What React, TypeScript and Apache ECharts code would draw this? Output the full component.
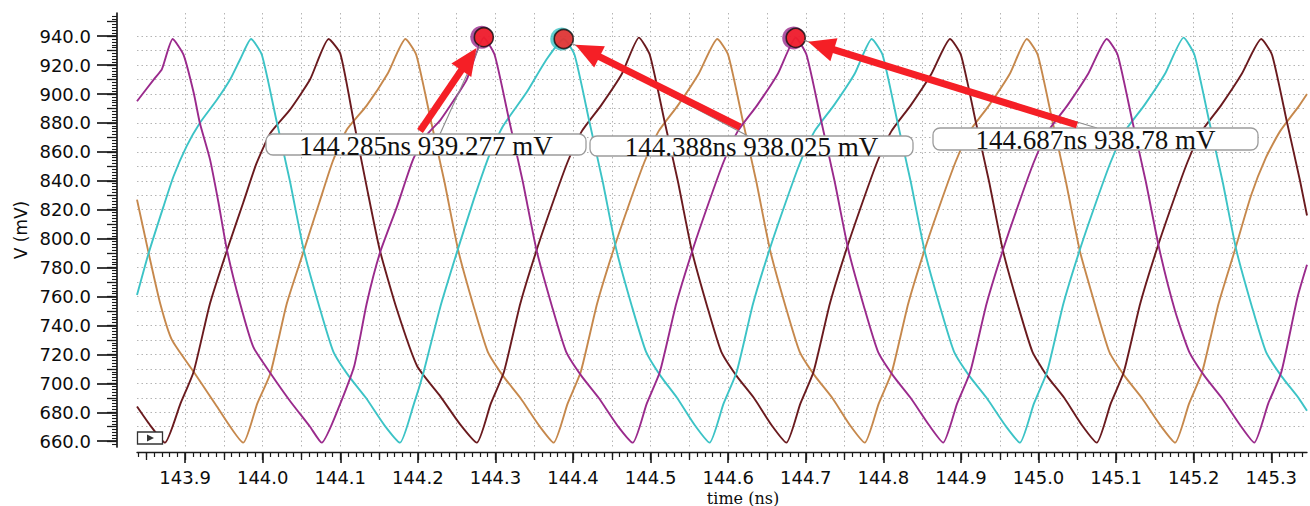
import React, { useEffect, useRef } from "react";
import * as echarts from "echarts";

// ---- data (time in ns, voltage in mV) ----
const purpleWave: [number, number][] = [
  [143.838, 895], [143.861, 911], [143.870, 917], [143.884, 938],
  [143.898, 927], [143.911, 901], [143.919, 880], [143.932, 855], [143.943, 825], [143.954, 792], [143.971, 755], [143.988, 725], [144.010, 707], [144.035, 688], [144.061, 670], [144.076, 659],
  [144.100, 686], [144.118, 712], [144.134, 755], [144.151, 790], [144.173, 822], [144.194, 855], [144.212, 872], [144.229, 882], [144.248, 897], [144.263, 910], [144.285, 939],
  [144.299, 927], [144.318, 881], [144.335, 840], [144.353, 792], [144.373, 753], [144.391, 722], [144.411, 705], [144.433, 690], [144.457, 671], [144.477, 659],
  [144.495, 686], [144.512, 708], [144.533, 755], [144.554, 792], [144.575, 825], [144.594, 853], [144.612, 874], [144.637, 892], [144.664, 914], [144.687, 939],
  [144.701, 927], [144.720, 881], [144.737, 840], [144.755, 792], [144.775, 753], [144.793, 722], [144.813, 705], [144.835, 690], [144.859, 671], [144.877, 659],
  [144.895, 686], [144.912, 708], [144.933, 755], [144.954, 792], [144.975, 825], [144.994, 853], [145.012, 874], [145.037, 892], [145.064, 914], [145.088, 938],
  [145.102, 927], [145.121, 881], [145.138, 840], [145.156, 792], [145.176, 750], [145.194, 722], [145.214, 705], [145.236, 690], [145.260, 671], [145.278, 659],
  [145.296, 686], [145.313, 708], [145.334, 760], [145.346, 782],
];

const cyanWave: [number, number][] = [
  [143.838, 761], [143.853, 790], [143.872, 822], [143.885, 843], [143.902, 864], [143.919, 880], [143.941, 896], [143.958, 910], [143.971, 924], [143.985, 938],
  [143.999, 927], [144.018, 881], [144.035, 840], [144.053, 792], [144.073, 753], [144.091, 722], [144.111, 705], [144.133, 690], [144.157, 671], [144.177, 659],
  [144.195, 686], [144.207, 707], [144.229, 753], [144.250, 790], [144.272, 827], [144.293, 859], [144.310, 878], [144.340, 901], [144.366, 924], [144.388, 938],
  [144.402, 927], [144.421, 881], [144.438, 840], [144.456, 792], [144.476, 753], [144.494, 722], [144.513, 705], [144.534, 690], [144.557, 671], [144.576, 659],
  [144.594, 686], [144.611, 708], [144.632, 755], [144.653, 792], [144.674, 825], [144.693, 853], [144.711, 874], [144.736, 892], [144.763, 914], [144.785, 938],
  [144.799, 927], [144.818, 881], [144.835, 840], [144.853, 792], [144.873, 753], [144.891, 722], [144.911, 705], [144.933, 690], [144.957, 671], [144.976, 659],
  [144.994, 686], [145.011, 708], [145.032, 755], [145.053, 792], [145.074, 825], [145.093, 853], [145.111, 874], [145.136, 892], [145.163, 914], [145.187, 939],
  [145.201, 927], [145.220, 881], [145.237, 840], [145.255, 792], [145.275, 753], [145.293, 722], [145.313, 705], [145.335, 690], [145.346, 681],
];

const brownWave: [number, number][] = [
  [143.838, 684], [143.855, 671], [143.874, 659],
  [143.894, 686], [143.911, 708], [143.932, 755], [143.954, 792], [143.975, 825], [143.992, 852], [144.010, 873], [144.035, 889], [144.061, 910], [144.085, 938],
  [144.100, 928], [144.117, 882], [144.134, 836], [144.151, 792], [144.173, 751], [144.199, 712], [144.229, 691], [144.254, 672], [144.276, 659],
  [144.294, 686], [144.311, 708], [144.332, 755], [144.353, 792], [144.374, 825], [144.393, 853], [144.411, 874], [144.436, 892], [144.463, 914], [144.485, 939],
  [144.499, 927], [144.518, 881], [144.535, 840], [144.553, 792], [144.573, 753], [144.591, 722], [144.611, 705], [144.633, 690], [144.656, 671], [144.675, 659],
  [144.693, 686], [144.710, 708], [144.731, 755], [144.752, 792], [144.773, 825], [144.792, 853], [144.810, 874], [144.835, 892], [144.862, 914], [144.886, 938],
  [144.900, 927], [144.919, 881], [144.936, 840], [144.954, 792], [144.974, 753], [144.992, 722], [145.011, 705], [145.033, 690], [145.056, 671], [145.075, 659],
  [145.093, 686], [145.110, 708], [145.131, 755], [145.152, 792], [145.173, 825], [145.192, 853], [145.210, 874], [145.235, 892], [145.262, 914], [145.287, 938],
  [145.301, 927], [145.320, 881], [145.337, 840], [145.346, 816],
];

const tanWave: [number, number][] = [
  [143.838, 827], [143.853, 790], [143.868, 755], [143.883, 730], [143.911, 708], [143.941, 684], [143.975, 659],
  [143.993, 686], [144.010, 707], [144.031, 755], [144.052, 790], [144.073, 825], [144.090, 853], [144.108, 875], [144.134, 892], [144.161, 914], [144.184, 938],
  [144.198, 927], [144.217, 881], [144.234, 840], [144.252, 792], [144.272, 753], [144.290, 722], [144.310, 705], [144.332, 690], [144.356, 671], [144.375, 659],
  [144.393, 686], [144.410, 708], [144.431, 755], [144.452, 792], [144.473, 825], [144.492, 853], [144.510, 874], [144.535, 892], [144.562, 914], [144.586, 938],
  [144.600, 927], [144.619, 881], [144.636, 840], [144.654, 792], [144.674, 753], [144.692, 722], [144.712, 705], [144.734, 690], [144.757, 671], [144.776, 659],
  [144.794, 686], [144.811, 708], [144.832, 755], [144.853, 792], [144.874, 825], [144.893, 853], [144.911, 874], [144.936, 892], [144.963, 914], [144.985, 938],
  [144.999, 927], [145.018, 881], [145.035, 840], [145.053, 792], [145.066, 767], [145.091, 722], [145.111, 705], [145.133, 690], [145.157, 671], [145.176, 659],
  [145.194, 686], [145.211, 708], [145.232, 755], [145.253, 792], [145.274, 830], [145.293, 856], [145.311, 874], [145.336, 892], [145.346, 900],
];

// cursor markers: time, value, label
const cursorTimes = [144.285, 144.388, 144.687];
const cursorValues = [939.277, 938.025, 938.78];
const cursorLabels = ["144.285ns 939.277 mV", "144.388ns 938.025 mV", "144.687ns 938.78 mV"];
const cursorRingSeries = ["purple", "cyan", "purple"];

const xTickLabels = [143.9, 144.0, 144.1, 144.2, 144.3, 144.4, 144.5, 144.6, 144.7, 144.8, 144.9, 145.0, 145.1, 145.2, 145.3];
const yTickLabels = [660, 680, 700, 720, 740, 760, 780, 800, 820, 840, 860, 880, 900, 920, 940];

const X_MIN = 143.838;
const X_MAX = 145.346;
const Y_MIN = 656;
const Y_MAX = 956;

const COLORS: Record<string, string> = {
  purple: "#9a2a8c",
  cyan: "#3cc3c6",
  brown: "#6a1a1e",
  tan: "#c6884c",
};

// annotation layout (callout boxes and arrow tails, in pixels)
const calloutBoxes = [
  { x: 266, y: 134, w: 320, h: 21, ax: 440, ay: 134 },
  { x: 590, y: 136, w: 323, h: 20, ax: 748, ay: 136 },
  { x: 933, y: 128, w: 325, h: 22, ax: 1097, ay: 128 },
];
const arrowTails = [
  [420, 131],
  [740, 127],
  [1077, 125],
];

const gridX: number[] = [];
xTickLabels.forEach((l) => {
  gridX.push(Math.round((l - 0.05) * 100) / 100);
  gridX.push(l);
});
const gridY: number[] = [];
yTickLabels.forEach((l) => {
  gridY.push(l);
  gridY.push(l + 10);
});

const AXIS_COLOR = "#1a1a1a";
const GRID_COLOR = "#b4b4b4";

export default function App() {
  const ref = useRef<HTMLDivElement>(null);

  useEffect(() => {
    const el = ref.current;
    if (!el) return;
    const chart = echarts.init(el, null, { renderer: "svg" });

    const lineSeries = (name: string, data: [number, number][]) => ({
      type: "line",
      name,
      data,
      xAxisIndex: 0,
      yAxisIndex: 0,
      showSymbol: false,
      symbol: "none",
      smooth: 0.18,
      clip: false,
      lineStyle: { color: COLORS[name], width: 1.9 },
      itemStyle: { color: COLORS[name] },
      z: 3,
    });

    const option: any = {
      animation: false,
      backgroundColor: "#ffffff",
      grid: {
        left: 137,
        right: 3,
        top: 13,
        bottom: 59,
        containLabel: false,
        outerBoundsMode: "none",
      },
      xAxis: [
        {
          type: "value",
          min: X_MIN,
          max: X_MAX,
          splitNumber: 15,
          minInterval: 0.1,
          maxInterval: 0.1,
          position: "bottom",
          offset: 5,
          axisLine: { show: true, onZero: false, lineStyle: { color: AXIS_COLOR, width: 1.3 } },
          axisTick: {
            show: true,
            length: 11,
            customValues: xTickLabels,
            lineStyle: { color: AXIS_COLOR, width: 1.6 },
          },
          minorTick: { show: true, splitNumber: 10, length: 5, lineStyle: { color: AXIS_COLOR, width: 1.2 } },
          axisLabel: {
            customValues: xTickLabels,
            margin: 16,
            fontFamily: "DejaVu Sans",
            fontSize: 18,
            color: "#0d0d0d",
            formatter: (v: number) => (Math.abs(v * 10 - Math.round(v * 10)) < 1e-6 ? v.toFixed(1) : ""),
          },
          splitLine: { show: false },
          name: "time (ns)",
          nameLocation: "middle",
          nameGap: 38,
          nameMoveOverlap: false,
          nameTextStyle: {
            fontFamily: "DejaVu Serif",
            fontSize: 16,
            color: "#0d0d0d",
            padding: [0, 0, 0, 42],
          },
        },
        {
          type: "value",
          min: X_MIN,
          max: X_MAX,
          splitNumber: 30,
          minInterval: 0.05,
          maxInterval: 0.05,
          position: "bottom",
          offset: 5,
          axisLine: { show: false, onZero: false },
          axisTick: { show: true, length: 8, customValues: gridX, lineStyle: { color: AXIS_COLOR, width: 1.3 } },
          axisLabel: { show: false },
          splitLine: {
            show: true,
            showMinLine: false,
            showMaxLine: false,
            lineStyle: { color: GRID_COLOR, width: 1, type: [1.5, 3] },
          },
        },
      ],
      yAxis: [
        {
          type: "value",
          min: Y_MIN,
          max: Y_MAX,
          splitNumber: 15,
          minInterval: 20,
          maxInterval: 20,
          position: "left",
          offset: 20,
          axisLine: { show: true, onZero: false, lineStyle: { color: AXIS_COLOR, width: 1.7 } },
          axisTick: {
            show: true,
            length: 20,
            customValues: yTickLabels,
            lineStyle: { color: AXIS_COLOR, width: 1.7 },
          },
          axisLabel: {
            customValues: yTickLabels,
            margin: 26,
            fontFamily: "DejaVu Sans",
            fontSize: 18,
            color: "#0d0d0d",
            formatter: (v: number) => (Math.abs(v % 20) < 1e-6 ? v.toFixed(1) : ""),
          },
          splitLine: { show: false },
          name: "V (mV)",
          nameLocation: "middle",
          nameGap: 88,
          nameRotate: 90,
          nameMoveOverlap: false,
          nameTextStyle: { fontFamily: "DejaVu Sans", fontSize: 17, color: "#0d0d0d" },
        },
        {
          type: "value",
          min: Y_MIN,
          max: Y_MAX,
          splitNumber: 30,
          minInterval: 10,
          maxInterval: 10,
          position: "left",
          offset: 20,
          axisLine: { show: false, onZero: false },
          axisTick: { show: true, length: 10, customValues: gridY, lineStyle: { color: AXIS_COLOR, width: 1.3 } },
          minorTick: { show: true, splitNumber: 5, length: 5, lineStyle: { color: AXIS_COLOR, width: 1.1 } },
          axisLabel: { show: false },
          splitLine: {
            show: true,
            showMinLine: false,
            showMaxLine: false,
            lineStyle: { color: GRID_COLOR, width: 1, type: [1.5, 3] },
          },
        },
      ],
      series: [
        lineSeries("tan", tanWave),
        lineSeries("brown", brownWave),
        lineSeries("cyan", cyanWave),
        lineSeries("purple", purpleWave),
        {
          type: "scatter",
          name: "cursorRing",
          xAxisIndex: 0,
          yAxisIndex: 0,
          symbol: "circle",
          symbolSize: 23,
          symbolOffset: [-2, 0],
          data: cursorTimes.map((t, i) => ({
            value: [t, cursorValues[i]],
            itemStyle: { color: COLORS[cursorRingSeries[i]] },
          })),
          z: 10,
        },
        {
          type: "scatter",
          name: "cursor",
          xAxisIndex: 0,
          yAxisIndex: 0,
          symbol: "circle",
          symbolSize: 19,
          data: cursorTimes.map((t, i) => [t, cursorValues[i]]),
          itemStyle: { color: "#ff1a1a", borderColor: "#111", borderWidth: 1.6 },
          z: 11,
        },
      ],
    };

    chart.setOption(option);

    const elements: any[] = [];
    cursorTimes.forEach((t, i) => {
      const p = chart.convertToPixel({ seriesIndex: 0 }, [t, cursorValues[i]]) as number[];
      const [mx, my] = p;
      const box = calloutBoxes[i];
      // leader line from the callout box to the marker
      {
        const dx = mx - box.ax;
        const dy = my - box.ay;
        const len = Math.hypot(dx, dy);
        elements.push({
          type: "line",
          z: 100,
          shape: { x1: box.ax, y1: box.ay, x2: mx - (dx / len) * 9, y2: my - (dy / len) * 9 },
          style: { stroke: "#8a8a8a", lineWidth: 1.1 },
        });
      }
      // callout box
      elements.push({
        type: "rect",
        z: 101,
        shape: { x: box.x, y: box.y, width: box.w, height: box.h, r: 7 },
        style: { fill: "#ffffff", stroke: "#9c9c9c", lineWidth: 1.3 },
      });
      elements.push({
        type: "text",
        z: 102,
        x: box.x + box.w / 2,
        y: box.y + box.h / 2 + 1,
        style: {
          text: cursorLabels[i],
          fontFamily: "Liberation Serif",
          fontSize: 27,
          fill: "#111111",
          align: "center",
          verticalAlign: "middle",
          textAlign: "center",
          textVerticalAlign: "middle",
        },
      });
      // red arrow
      const [tx, ty] = arrowTails[i];
      const dx = mx - tx;
      const dy = my - ty;
      const len = Math.hypot(dx, dy);
      const ux = dx / len;
      const uy = dy / len;
      const tipX = mx - ux * 13;
      const tipY = my - uy * 13;
      const headLen = 27;
      const headHalf = 12;
      const bx = tipX - ux * headLen;
      const by = tipY - uy * headLen;
      elements.push({
        type: "line",
        z: 103,
        shape: { x1: tx, y1: ty, x2: bx + ux * 2, y2: by + uy * 2 },
        style: { stroke: "#f51f26", lineWidth: 7 },
      });
      elements.push({
        type: "polygon",
        z: 103,
        shape: {
          points: [
            [tipX, tipY],
            [bx - uy * headHalf, by + ux * headHalf],
            [bx + uy * headHalf, by - ux * headHalf],
          ],
        },
        style: { fill: "#f51f26" },
      });
    });

    // small marker box at the lower-left corner of the plot
    elements.push({
      type: "rect",
      z: 100,
      shape: { x: 137.5, y: 432, width: 25, height: 12 },
      style: { fill: "#ffffff", stroke: "#333333", lineWidth: 1.3 },
    });
    elements.push({
      type: "polygon",
      z: 101,
      shape: { points: [[147, 434.5], [147, 441.5], [154, 438]] },
      style: { fill: "#333333" },
    });

    chart.setOption({ graphic: { elements } });

    return () => {
      chart.dispose();
    };
  }, []);

  return (
    <div
      ref={ref}
      style={{ position: "absolute", left: 0, top: 0, width: 1310, height: 506, background: "#fff" }}
    />
  );
}
